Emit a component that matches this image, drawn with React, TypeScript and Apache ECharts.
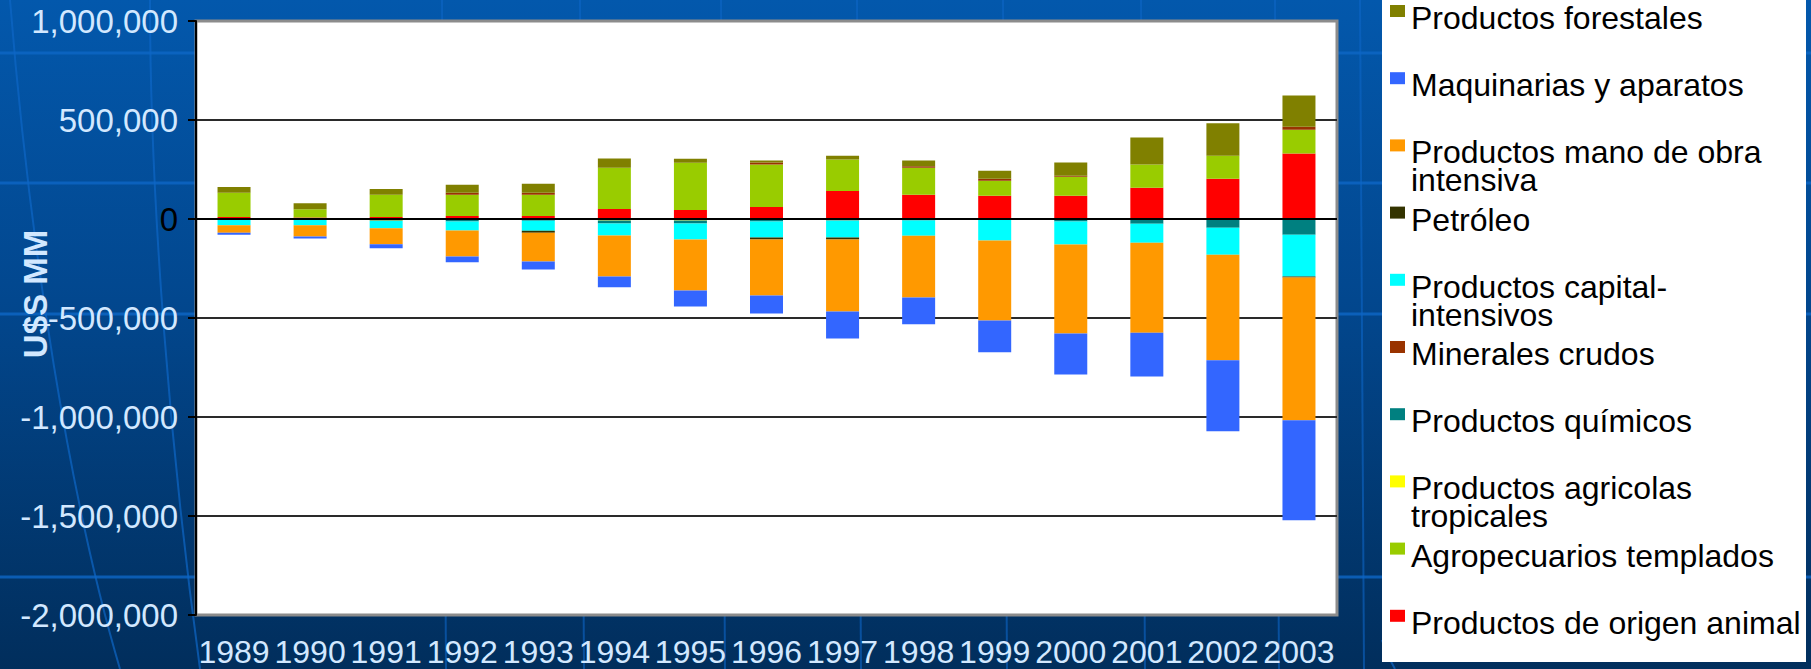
import { useEffect, useRef } from 'react';
import * as echarts from 'echarts';

const years = ['1989', '1990', '1991', '1992', '1993', '1994', '1995', '1996', '1997', '1998', '1999', '2000', '2001', '2002', '2003'];

const origenAnimal = [10000, 8000, 10000, 15000, 15000, 51000, 46000, 61000, 142000, 122000, 117000, 117000, 158000, 203000, 331000];
const agropecuariosTemplados = [122000, 41000, 112000, 107000, 107000, 208000, 238000, 214000, 158000, 137000, 76000, 97000, 117000, 117000, 120000];
const agricolasTropicales = [0, -2000, -7000, 0, -5000, -8000, -8000, 0, 0, 0, 0, 0, 0, 0, -3000];
const quimicos = [0, 0, -3000, -13000, -4000, -15000, -15000, -13000, 0, -8000, 0, -13000, -24000, -44000, -76000];
const mineralesCrudos = [0, 0, 0, 10000, 10000, 0, 0, 10000, -8000, 7000, 10000, 5000, 0, 0, 15000];
const capitalIntensivos = [-32000, -30000, -37000, -45000, -50000, -60000, -81000, -81000, -86000, -76000, -109000, -116000, -96000, -136000, -212000];
const petroleo = [0, 0, 0, 0, -10000, 0, 0, -10000, -10000, 0, 0, 0, 0, 0, -5000];
const manoDeObra = [-37000, -57000, -81000, -131000, -146000, -207000, -257000, -282000, -363000, -312000, -403000, -449000, -454000, -534000, -721000];
const maquinarias = [-10000, -10000, -20000, -30000, -40000, -55000, -81000, -91000, -136000, -136000, -161000, -207000, -222000, -358000, -504000];
const forestales = [30000, 30000, 30000, 41000, 46000, 46000, 20000, 10000, 20000, 29000, 41000, 66000, 137000, 163000, 158000];

const yTicks = { min: -2000000, max: 1000000, interval: 500000 };
const yTitle = 'U$S MM';

// stacking order (first = closest to zero)
const seriesDefs = [
  { name: 'Productos de origen animal', data: origenAnimal, color: '#FF0000' },
  { name: 'Agropecuarios templados', data: agropecuariosTemplados, color: '#99CC00' },
  { name: 'Productos agricolas tropicales', data: agricolasTropicales, color: '#FFFF00' },
  { name: 'Productos químicos', data: quimicos, color: '#008080' },
  { name: 'Minerales crudos', data: mineralesCrudos, color: '#993300' },
  { name: 'Productos capital-intensivos', data: capitalIntensivos, color: '#00FFFF' },
  { name: 'Petróleo', data: petroleo, color: '#333300' },
  { name: 'Productos mano de obra intensiva', data: manoDeObra, color: '#FF9900' },
  { name: 'Maquinarias y aparatos', data: maquinarias, color: '#3366FF' },
  { name: 'Productos forestales', data: forestales, color: '#808000' },
];

// legend labels as shown (top to bottom), with the line breaks of the original
const legendLabels: Record<string, string> = {
  'Productos forestales': 'Productos forestales',
  'Maquinarias y aparatos': 'Maquinarias y aparatos',
  'Productos mano de obra intensiva': 'Productos mano de obra\nintensiva',
  'Petróleo': 'Petróleo',
  'Productos capital-intensivos': 'Productos capital-\nintensivos',
  'Minerales crudos': 'Minerales crudos',
  'Productos químicos': 'Productos químicos',
  'Productos agricolas tropicales': 'Productos agricolas\ntropicales',
  'Agropecuarios templados': 'Agropecuarios templados',
  'Productos de origen animal': 'Productos de origen animal',
};

const FONT = '"Liberation Sans", Arial, sans-serif';
const LABEL_BLUE = '#D2E8FF';

export default function App() {
  const ref = useRef<HTMLDivElement>(null);

  useEffect(() => {
    if (!ref.current) return;
    const chart = echarts.init(ref.current, null, { renderer: 'svg' });

    const legendItems = [...seriesDefs].reverse();
    const legendGraphics: any[] = [
      {
        type: 'rect',
        z: 10,
        shape: { x: 1382, y: -2, width: 424, height: 664 },
        style: { fill: '#FFFFFF' },
      },
    ];
    legendItems.forEach((s, i) => {
      const top = 5 + i * 67.2;
      legendGraphics.push({
        type: 'rect',
        z: 11,
        shape: { x: 1390, y: top, width: 15, height: 12 },
        style: { fill: s.color },
      });
      legendGraphics.push({
        type: 'text',
        z: 11,
        x: 1411,
        y: top - 1,
        style: {
          text: legendLabels[s.name],
          fill: '#000000',
          font: `32px ${FONT}`,
          lineHeight: 28,
          verticalAlign: 'top',
          align: 'left',
        },
      });
    });

    const titleGraphic: any = {
      type: 'text',
      z: 5,
      x: 35,
      y: 294,
      rotation: Math.PI / 2,
      style: {
        text: yTitle,
        fill: LABEL_BLUE,
        font: `bold 33px ${FONT}`,
        align: 'center',
        verticalAlign: 'middle',
      },
    };

    const decoLines: any[] = [53, 183, 314, 577].map((y) => ({
      type: 'line',
      z: -5,
      shape: { x1: 0, y1: y, x2: 1811, y2: y },
      style: { stroke: '#0E66C6', lineWidth: 3, opacity: 0.8 },
    }));
    const curves: any[] = [
      { x1: 10, y1: 0, cpx1: 30, cpy1: 250, cpx2: 70, cpy2: 500, x2: 120, y2: 669 },
      { x1: 150, y1: 0, cpx1: 150, cpy1: 200, cpx2: 170, cpy2: 450, x2: 200, y2: 669 },
      { x1: 1395, y1: 669, cpx1: 1390, cpy1: 660, cpx2: 1385, cpy2: 650, x2: 1382, y2: 640 },
    ].map((shape) => ({
      type: 'bezierCurve',
      z: -5,
      shape,
      style: { stroke: '#0E66C6', lineWidth: 2, fill: 'none', opacity: 0.7 },
    }));
    const vlines: any[] = [442, 580, 721, 857, 1003, 1141, 1275, 1360].map((x) => ({
      type: 'line',
      z: -5,
      shape: { x1: x, y1: 0, x2: x + 4, y2: 669 },
      style: { stroke: '#0E66C6', lineWidth: 2, opacity: 0.6 },
    }));

    const option: any = {
      animation: false,
      backgroundColor: 'transparent',
      textStyle: { fontFamily: FONT },
      legend: { show: false },
      grid: {
        left: 196,
        top: 21,
        right: 474,
        bottom: 54,
        show: true,
        backgroundColor: '#FFFFFF',
        borderColor: '#8C8C8C',
        borderWidth: 3,
        containLabel: false,
        outerBoundsMode: 'none',
      },
      xAxis: {
        type: 'category',
        data: years,
        axisLine: { show: false, onZero: false },
        axisTick: { show: false },
        axisLabel: {
          color: LABEL_BLUE,
          fontSize: 32,
          fontFamily: FONT,
          margin: 21,
          interval: 0,
        },
        splitLine: { show: false },
      },
      yAxis: {
        type: 'value',
        min: yTicks.min,
        max: yTicks.max,
        interval: yTicks.interval,
        axisLine: { show: true, lineStyle: { color: '#000000', width: 2 } },
        axisTick: { show: true, length: 8, lineStyle: { color: '#000000', width: 2 } },
        axisLabel: {
          margin: 18,
          fontSize: 33,
          fontFamily: FONT,
          padding: [12, 0, 0, 0],
          color: (value: any) => (Number(value) === 0 ? '#000000' : LABEL_BLUE),
          formatter: (v: number) => v.toLocaleString('en-US'),
        },
        splitLine: {
          show: true,
          showMinLine: false,
          showMaxLine: false,
          lineStyle: { color: '#2A2A2A', width: 2 },
        },
      },
      series: seriesDefs.map((s, idx) => ({
        name: s.name,
        type: 'bar',
        stack: 'total',
        barWidth: 33,
        data: s.data,
        itemStyle: { color: s.color },
        emphasis: { disabled: true },
        ...(idx === seriesDefs.length - 1
          ? {
              markLine: {
                silent: true,
                symbol: 'none',
                label: { show: false },
                lineStyle: { color: '#000000', width: 2, type: 'solid' },
                data: [{ yAxis: 0 }],
              },
            }
          : {}),
      })),
      graphic: [...decoLines, ...vlines, ...curves, titleGraphic, ...legendGraphics],
    };

    chart.setOption(option);
    return () => chart.dispose();
  }, []);

  return (
    <div
      ref={ref}
      style={{
        position: 'fixed',
        left: 0,
        top: 0,
        width: 1811,
        height: 669,
        background: 'linear-gradient(to bottom, #0358AC 0%, #02478E 45%, #012E5C 100%)',
      }}
    />
  );
}
